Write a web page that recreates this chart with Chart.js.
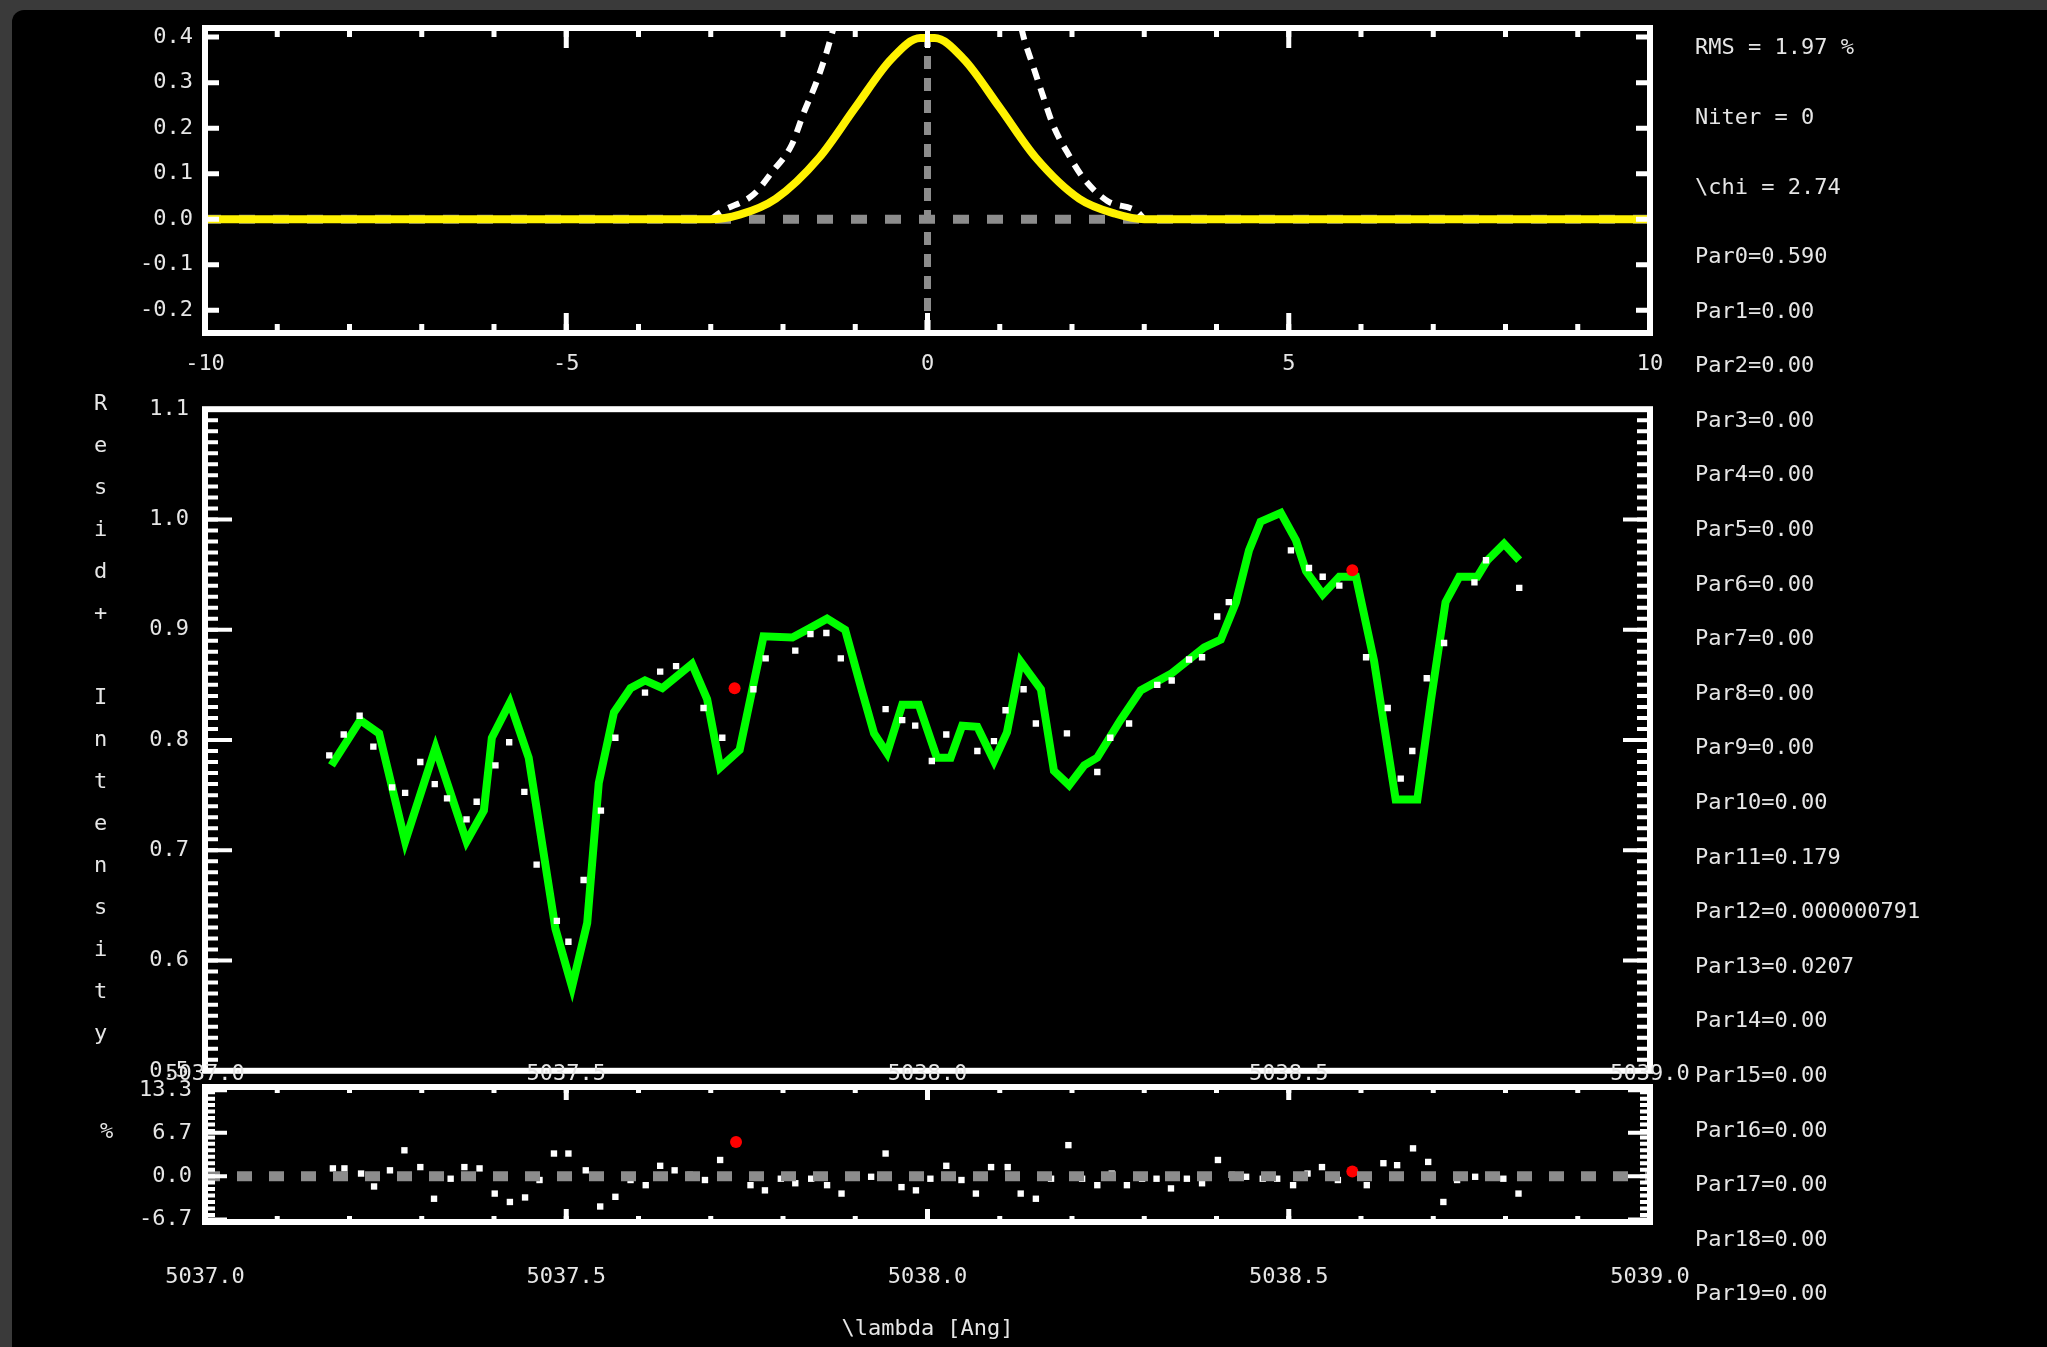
<!DOCTYPE html>
<html><head><meta charset="utf-8">
<script src="https://cdn.jsdelivr.net/npm/chart.js@4.4.1/dist/chart.umd.min.js"></script>
<style>
html,body{margin:0;padding:0;}
body{width:2047px;height:1347px;background:#3a3a3a;overflow:hidden;position:relative;font-family:"DejaVu Sans Mono",monospace;}
#stage{position:absolute;left:12px;top:10px;width:2035px;height:1337px;background:#000;border-top-left-radius:12px;}
canvas{position:absolute;left:0;}
.lbl{position:absolute;color:#e6e6e6;font-size:22px;line-height:26px;white-space:pre;font-family:"DejaVu Sans Mono",monospace;}
#ylab{position:absolute;left:89px;top:390px;color:#e6e6e6;font-size:22px;line-height:22px;writing-mode:vertical-lr;text-orientation:upright;letter-spacing:17px;font-family:"DejaVu Sans Mono",monospace;white-space:pre;}
</style></head>
<body>
<div id="stage"></div>
<canvas id="cTop" width="2047" height="400" style="top:0px"></canvas>
<canvas id="cMain" width="2047" height="720" style="top:380px"></canvas>
<canvas id="cRes" width="2047" height="287" style="top:1060px"></canvas>
<div id="ylab">Resid+ Intensity</div>
<div class="lbl" style="left:100px;top:1118px">%</div>
<div id="params"></div>
<script>
// ---------------- DATA ----------------
// top panel: kernel (yellow) and initial guess (white dashed)
const kernelX = [-10, -3.0, -2.6, -2.1, -1.5, -1.0, -0.5, -0.1, 0.1, 0.5, 1.0, 1.5, 2.1, 2.6, 3.0, 10];
const kernelY = [0, 0, 0.01, 0.045, 0.135, 0.245, 0.352, 0.398, 0.398, 0.352, 0.245, 0.135, 0.045, 0.012, 0, 0];
const guessX = [-3.0, -2.85, -2.41, -2.15, -1.88, -1.71, -1.54, -1.40, -1.30, 0, 1.30, 1.33, 1.46, 1.60, 1.74, 1.93, 2.16, 2.49, 2.90, 3.0];
const guessY = [0, 0.017, 0.054, 0.104, 0.163, 0.235, 0.30, 0.365, 0.42, null, 0.42, 0.40, 0.337, 0.27, 0.206, 0.148, 0.09, 0.04, 0.017, 0];
const topXTicks = [-10, -5, 0, 5, 10];
const topYTicks = [-0.2, -0.1, 0.0, 0.1, 0.2, 0.3, 0.4];

// middle panel: model (green), observed (white), masked (red)
const modelX = [5037.175,5037.215,5037.241,5037.277,5037.319,5037.362,5037.386,5037.397,5037.422,5037.448,5037.485,5037.508,5037.529,5037.545,5037.566,5037.589,5037.609,5037.633,5037.674,5037.695,5037.713,5037.740,5037.773,5037.813,5037.836,5037.861,5037.886,5037.910,5037.926,5037.944,5037.965,5037.988,5038.013,5038.032,5038.048,5038.069,5038.092,5038.110,5038.129,5038.157,5038.175,5038.196,5038.217,5038.235,5038.267,5038.295,5038.337,5038.383,5038.406,5038.427,5038.445,5038.461,5038.489,5038.510,5038.524,5038.547,5038.570,5038.593,5038.618,5038.648,5038.678,5038.697,5038.717,5038.736,5038.761,5038.775,5038.798,5038.819];
const modelY = [0.777,0.818,0.806,0.708,0.793,0.708,0.736,0.802,0.834,0.784,0.629,0.576,0.634,0.761,0.825,0.847,0.854,0.847,0.869,0.837,0.775,0.791,0.894,0.893,0.901,0.910,0.900,0.843,0.806,0.788,0.832,0.832,0.784,0.784,0.813,0.812,0.781,0.807,0.871,0.846,0.772,0.759,0.777,0.784,0.818,0.845,0.860,0.884,0.891,0.925,0.972,0.998,1.006,0.981,0.953,0.932,0.948,0.948,0.872,0.746,0.746,0.837,0.925,0.948,0.948,0.963,0.978,0.963];
const obsX = [5037.172,5037.192,5037.214,5037.233,5037.259,5037.277,5037.298,5037.318,5037.335,5037.362,5037.376,5037.402,5037.421,5037.442,5037.459,5037.487,5037.503,5037.524,5037.548,5037.568,5037.609,5037.630,5037.652,5037.690,5037.716,5037.759,5037.776,5037.817,5037.838,5037.860,5037.880,5037.942,5037.965,5037.983,5038.006,5038.026,5038.069,5038.092,5038.108,5038.133,5038.150,5038.193,5038.235,5038.253,5038.279,5038.318,5038.338,5038.362,5038.380,5038.401,5038.417,5038.503,5038.528,5038.547,5038.570,5038.607,5038.637,5038.655,5038.671,5038.691,5038.715,5038.757,5038.773,5038.819];
const obsY = [0.786,0.805,0.822,0.794,0.757,0.752,0.780,0.760,0.747,0.728,0.744,0.777,0.798,0.753,0.687,0.636,0.617,0.673,0.736,0.802,0.843,0.862,0.867,0.829,0.802,0.846,0.874,0.881,0.896,0.897,0.874,0.828,0.818,0.813,0.781,0.805,0.790,0.799,0.827,0.846,0.815,0.806,0.771,0.802,0.815,0.850,0.854,0.873,0.875,0.912,0.925,0.972,0.956,0.948,0.940,0.875,0.829,0.765,0.790,0.856,0.888,0.943,0.963,0.938];
const maskX = [5037.733, 5038.588];
const maskY = [0.847, 0.954];
const mainXTicks = [5037.0, 5037.5, 5038.0, 5038.5, 5039.0];
const mainYTicks = [0.5, 0.6, 0.7, 0.8, 0.9, 1.0, 1.1];

// bottom panel: residuals in %
const residX = [5037.177,5037.193,5037.216,5037.234,5037.256,5037.276,5037.298,5037.317,5037.340,5037.359,5037.380,5037.401,5037.422,5037.443,5037.463,5037.483,5037.503,5037.527,5037.547,5037.568,5037.589,5037.610,5037.630,5037.650,5037.671,5037.692,5037.713,5037.755,5037.775,5037.797,5037.817,5037.839,5037.861,5037.881,5037.922,5037.942,5037.964,5037.984,5038.004,5038.026,5038.047,5038.067,5038.088,5038.111,5038.129,5038.150,5038.171,5038.195,5038.214,5038.235,5038.255,5038.276,5038.297,5038.317,5038.337,5038.359,5038.380,5038.402,5038.421,5038.441,5038.464,5038.484,5038.506,5038.526,5038.546,5038.568,5038.608,5038.631,5038.650,5038.672,5038.693,5038.714,5038.733,5038.758,5038.778,5038.797,5038.818];
const residY = [1.2,1.2,0.4,-1.6,0.9,4.0,1.4,-3.5,-0.4,1.4,1.2,-2.7,-4.0,-3.3,-0.6,3.5,3.5,0.9,-4.7,-3.2,-0.6,-1.4,1.6,0.9,0.2,-0.6,2.5,-1.4,-2.2,-0.4,-1.1,-0.4,-1.4,-2.7,-0.1,3.5,-1.7,-2.2,-0.4,1.6,-0.6,-2.7,1.4,1.4,-2.7,-3.5,-0.4,4.8,-0.4,-1.4,0.4,-1.4,-0.4,-0.4,-1.9,-0.4,-1.1,2.5,0.2,-0.1,-0.4,-0.4,-1.4,0.4,1.4,-0.6,-1.4,2.0,1.7,4.3,2.2,-4.0,-0.6,-0.1,-0.1,-0.4,-2.7];
const residMaskX = [5037.735, 5038.588];
const residMaskY = [5.3, 0.7];
const resYTicks = [-6.7, 0.0, 6.7, 13.3];

// text panel
const statLines = ['RMS = 1.97 %', 'Niter = 0', '\\chi = 2.74'];
const parValues = ['0.590','0.00','0.00','0.00','0.00','0.00','0.00','0.00','0.00','0.00','0.00','0.179','0.000000791','0.0207','0.00','0.00','0.00','0.00','0.00','0.00'];

// ---------------- HELPERS ----------------
const pts = (xs, ys) => xs.map((x, i) => ({x: x, y: ys[i]}));
const steps = (a, b, s) => { const out = []; const n = Math.round((b - a) / s); for (let i = 0; i <= n; i++) out.push(+(a + i * s).toFixed(6)); return out; };
const setTicks = vals => (s => { s.ticks = vals.map(v => ({value: v})); });

Chart.defaults.font.family = '"DejaVu Sans Mono", monospace';
Chart.defaults.font.size = 22;
Chart.defaults.color = '#e6e6e6';
Chart.defaults.animation = false;

const frameTicks = {
  id: 'frameTicks',
  afterDraw(chart, args, o) {
    const {ctx, chartArea: a, scales} = chart;
    ctx.save();
    ctx.strokeStyle = '#ffffff';
    ctx.lineCap = 'butt';
    (o.sets || []).forEach(st => {
      const s = scales[st.axis];
      ctx.lineWidth = st.lw;
      ctx.beginPath();
      st.values.forEach(v => {
        const p = s.getPixelForValue(v);
        if (st.axis === 'x') {
          if (p < a.left - 1 || p > a.right + 1) return;
          if (st.sides.includes('bottom')) { ctx.moveTo(p, a.bottom); ctx.lineTo(p, a.bottom - st.len); }
          if (st.sides.includes('top')) { ctx.moveTo(p, a.top); ctx.lineTo(p, a.top + st.len); }
        } else {
          if (p < a.top - 1 || p > a.bottom + 1) return;
          if (st.sides.includes('left')) { ctx.moveTo(a.left, p); ctx.lineTo(a.left + st.len, p); }
          if (st.sides.includes('right')) { ctx.moveTo(a.right, p); ctx.lineTo(a.right - st.len, p); }
        }
      });
      ctx.stroke();
    });
    ctx.lineWidth = o.frameWidth || 6;
    ctx.strokeRect(a.left, a.top, a.width, a.height);
    ctx.restore();
  }
};

const baseScale = {
  type: 'linear',
  grid: {display: false, drawTicks: false},
  border: {display: false},
};

// ---------------- TOP PANEL ----------------
new Chart(document.getElementById('cTop'), {
  type: 'scatter',
  data: {datasets: [
    {data: [{x: -10, y: 0}, {x: 10, y: 0}], showLine: true, borderColor: '#8c8c8c', borderWidth: 9, borderDash: [16, 18], pointRadius: 0, order: 4, clip: 0},
    {data: [{x: 0, y: -0.25}, {x: 0, y: 0.42}], showLine: true, borderColor: '#8c8c8c', borderWidth: 7, borderDash: [13, 9], pointRadius: 0, order: 3, clip: 0},
    {data: pts(guessX, guessY), showLine: true, spanGaps: false, borderColor: '#ffffff', borderWidth: 6, borderDash: [12, 9], pointRadius: 0, order: 2, clip: 0, cubicInterpolationMode: 'monotone'},
    {data: pts(kernelX, kernelY), showLine: true, borderColor: '#fff200', borderWidth: 8, pointRadius: 0, order: 1, clip: 0, cubicInterpolationMode: 'monotone'}
  ]},
  options: {
    responsive: false, events: [],
    layout: {padding: {top: 28, right: 397, bottom: 0, left: 0}},
    plugins: {legend: {display: false}, tooltip: {enabled: false},
      frameTicks: {frameWidth: 6, sets: [
        {axis: 'x', values: topXTicks, len: 20, sides: ['top', 'bottom'], lw: 5},
        {axis: 'x', values: steps(-10, 10, 1), len: 9, sides: ['top', 'bottom'], lw: 5},
        {axis: 'y', values: topYTicks, len: 14, sides: ['left', 'right'], lw: 5}
      ]}},
    scales: {
      x: Object.assign({}, baseScale, {min: -10, max: 10, afterBuildTicks: setTicks(topXTicks),
        afterFit: s => { s.height = 67; },
        ticks: {padding: 18, maxRotation: 0, autoSkip: false, callback: v => String(v)}}),
      y: Object.assign({}, baseScale, {min: -0.25, max: 0.42, afterBuildTicks: setTicks(topYTicks),
        afterFit: s => { s.width = 205; },
        ticks: {padding: 12, autoSkip: false, callback: v => Number(v).toFixed(1)}})
    }
  },
  plugins: [frameTicks]
});

// ---------------- MAIN PANEL ----------------
new Chart(document.getElementById('cMain'), {
  type: 'scatter',
  data: {datasets: [
    {data: pts(modelX, modelY), showLine: true, borderColor: '#00ff00', borderWidth: 8, pointRadius: 0, order: 3},
    {data: pts(obsX, obsY), showLine: false, pointStyle: 'rect', pointRadius: 4.5, backgroundColor: '#ffffff', borderWidth: 0, order: 2},
    {data: pts(maskX, maskY), showLine: false, pointStyle: 'circle', pointRadius: 6, backgroundColor: '#ff0000', borderWidth: 0, order: 1}
  ]},
  options: {
    responsive: false, events: [],
    layout: {padding: {top: 24, right: 397, bottom: 0, left: 0}},
    plugins: {legend: {display: false}, tooltip: {enabled: false},
      frameTicks: {frameWidth: 6, sets: [
        {axis: 'y', values: mainYTicks, len: 27, sides: ['left', 'right'], lw: 4},
        {axis: 'y', values: steps(0.5, 1.1, 0.01), len: 13, sides: ['left', 'right'], lw: 4}
      ]}},
    scales: {
      x: Object.assign({}, baseScale, {min: 5037, max: 5039, afterBuildTicks: setTicks(mainXTicks),
        afterFit: s => { s.height = 15; },
        ticks: {display: false}}),
      y: Object.assign({}, baseScale, {min: 0.5, max: 1.1, afterBuildTicks: setTicks(mainYTicks),
        afterFit: s => { s.width = 205; },
        ticks: {padding: 16, autoSkip: false, callback: v => Number(v).toFixed(1)}})
    }
  },
  plugins: [frameTicks]
});

// ---------------- RESIDUAL PANEL ----------------
new Chart(document.getElementById('cRes'), {
  type: 'scatter',
  data: {datasets: [
    {data: pts(residX, residY), showLine: false, pointStyle: 'rect', pointRadius: 4.5, backgroundColor: '#ffffff', borderWidth: 0, order: 3},
    {data: pts(residMaskX, residMaskY), showLine: false, pointStyle: 'circle', pointRadius: 6, backgroundColor: '#ff0000', borderWidth: 0, order: 2},
    {data: [{x: 5037, y: 0}, {x: 5039, y: 0}], showLine: true, borderColor: '#8c8c8c', borderWidth: 10, borderDash: [15, 17], pointRadius: 0, order: 1, clip: 0}
  ]},
  options: {
    responsive: false, events: [],
    layout: {padding: {top: 0, right: 397, bottom: 0, left: 0}},
    plugins: {legend: {display: false}, tooltip: {enabled: false},
      frameTicks: {frameWidth: 6, sets: [
        {axis: 'x', values: mainXTicks, len: 13, sides: ['top', 'bottom'], lw: 5},
        {axis: 'x', values: steps(5037, 5039, 0.1), len: 6, sides: ['top', 'bottom'], lw: 5},
        {axis: 'y', values: resYTicks, len: 22, sides: ['left', 'right'], lw: 4},
        {axis: 'y', values: steps(-7, 13, 1), len: 10, sides: ['left', 'right'], lw: 4}
      ]}},
    scales: {
      x: Object.assign({}, baseScale, {min: 5037, max: 5039, afterBuildTicks: setTicks(mainXTicks),
        afterFit: s => { s.height = 125; },
        title: {display: true, text: '\\lambda [Ang]', color: '#e6e6e6', font: {size: 22}, padding: {top: 0, bottom: 5}},
        ticks: {padding: 42, maxRotation: 0, autoSkip: false, callback: v => Number(v).toFixed(1)}}),
      x2: Object.assign({}, baseScale, {axis: 'x', position: 'top', min: 5037, max: 5039, afterBuildTicks: setTicks(mainXTicks),
        afterFit: s => { s.height = 27; },
        ticks: {padding: 0, maxRotation: 0, autoSkip: false, callback: v => Number(v).toFixed(1)}}),
      y: Object.assign({}, baseScale, {min: -7.1, max: 13.8, afterBuildTicks: setTicks(resYTicks),
        afterFit: s => { s.width = 205; },
        ticks: {padding: 13, autoSkip: false, callback: v => Number(v).toFixed(1)}})
    }
  },
  plugins: [frameTicks]
});

// ---------------- TEXT PANEL ----------------
const params = document.getElementById('params');
const statCenters = [47, 117, 187];
statLines.forEach((t, i) => {
  const d = document.createElement('div');
  d.className = 'lbl'; d.style.left = '1695px'; d.style.top = (statCenters[i] - 13) + 'px';
  d.textContent = t; params.appendChild(d);
});
parValues.forEach((v, i) => {
  const d = document.createElement('div');
  d.className = 'lbl'; d.style.left = '1695px'; d.style.top = (256 + i * 54.6 - 13) + 'px';
  d.textContent = 'Par' + i + '=' + v; params.appendChild(d);
});
</script>
</body></html>
